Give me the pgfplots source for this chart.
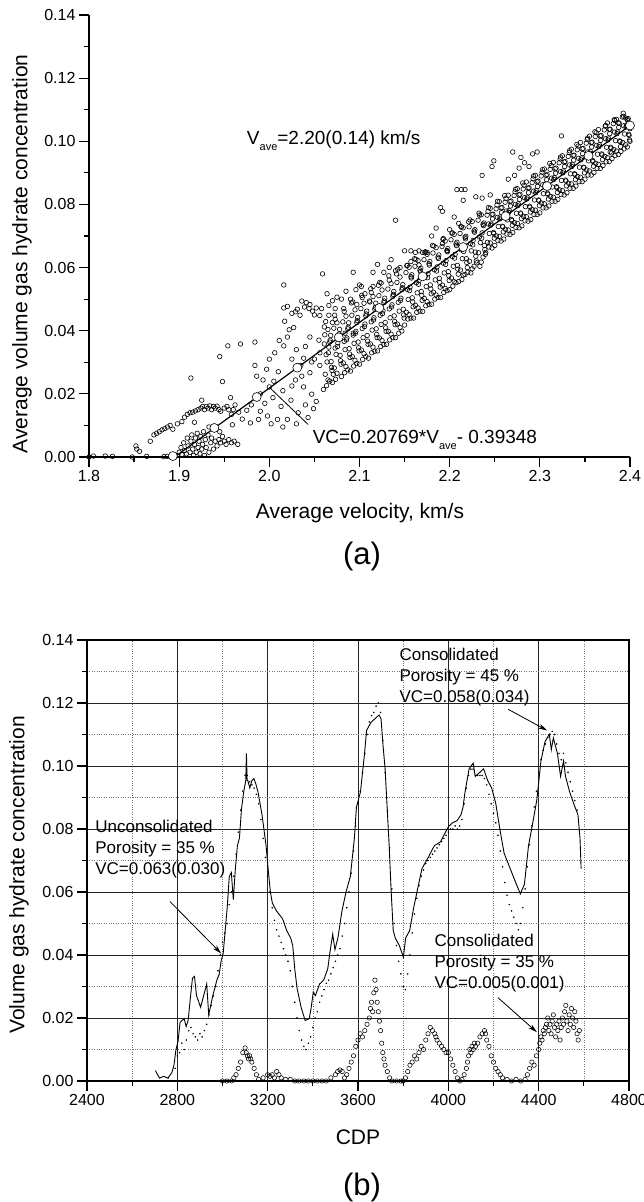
\documentclass[border=0pt]{standalone}
\usepackage{fontspec}
\setmainfont{Liberation Sans}
\usepackage{pgfplots}
\pgfplotsset{compat=1.18}
\usetikzlibrary{arrows.meta}
\newcommand\tickfont{\fontsize{16}{19}\selectfont}
\newcommand\labfont{\fontsize{21}{25}\selectfont}
\newcommand\annfont{\fontsize{19}{23}\selectfont}
\newcommand\annbfont{\fontsize{17}{21}\selectfont}
\newcommand\capfont{\fontsize{31}{36}\selectfont}
\newcommand\sub[1]{\raisebox{-0.32em}{\fontsize{11}{13}\selectfont #1}}
\pgfplotsset{
  myaxis/.style={
    scale only axis,
    ymin=0, ymax=0.14,
    ytick={0,0.02,0.04,0.06,0.08,0.10,0.12,0.14},
    minor ytick={0.01,0.03,0.05,0.07,0.09,0.11,0.13},
    scaled ticks=false,
    tick align=outside,
    major tick length=10pt,
    minor tick length=5pt,
    tick style={black, line width=1.2pt},
    axis line style={black, line width=1.2pt},
    ticklabel style={font=\tickfont},
    /pgf/number format/assume math mode=true,
    yticklabel style={/pgf/number format/.cd, fixed, fixed zerofill, precision=2},
  }
}
\begin{document}
\begin{tikzpicture}
\useasboundingbox (0pt,0pt) rectangle (643pt,1202pt);
% ---------------- panel (a)
\begin{axis}[myaxis, at={(89pt,745pt)}, anchor=south west, width=541pt, height=442pt,
  xmin=1.8, xmax=2.4,
  axis x line*=bottom, axis y line*=left,
  xtick={1.8,1.9,2.0,2.1,2.2,2.3,2.4},
  minor xtick={1.85,1.95,2.05,2.15,2.25,2.35},
  xticklabel style={/pgf/number format/.cd, fixed, fixed zerofill, precision=1},
]
\addplot[only marks, mark=o, mark size=2.3pt, mark options={line width=0.6pt, black}] coordinates {
(1.800,0.0000)(1.805,0.0003)(1.818,0.0003)(1.826,0.0002)(1.848,0.0000)(1.852,0.0035)(1.853,0.0025)(1.856,0.0018)(1.864,0.0002)(1.868,0.0050)(1.883,0.0001)(1.887,0.0002)
(1.872,0.0070)(1.875,0.0075)(1.878,0.0080)(1.881,0.0086)(1.884,0.0090)(1.887,0.0095)(1.890,0.0100)(1.893,0.0088)(1.898,0.0105)(1.903,0.0112)(1.906,0.0126)(1.909,0.0135)
(1.912,0.0140)(1.915,0.0142)(1.918,0.0146)(1.921,0.0150)(1.924,0.0155)(1.926,0.0160)(1.928,0.0150)(1.930,0.0160)(1.932,0.0155)(1.934,0.0162)(1.936,0.0150)(1.938,0.0160)
(1.940,0.0155)(1.942,0.0161)(1.944,0.0150)(1.946,0.0145)(1.950,0.0155)(1.953,0.0160)(1.955,0.0150)(1.958,0.0135)(1.960,0.0150)(1.962,0.0165)(1.925,0.0180)(1.913,0.0250)
(1.898,0.0005)(1.900,0.0015)(1.902,0.0030)(1.903,0.0008)(1.905,0.0045)(1.906,0.0020)(1.908,0.0010)(1.909,0.0060)(1.910,0.0035)(1.912,0.0015)(1.913,0.0050)(1.914,0.0070)
(1.915,0.0025)(1.916,0.0005)(1.917,0.0040)(1.918,0.0060)(1.919,0.0015)(1.920,0.0075)(1.921,0.0030)(1.922,0.0050)(1.923,0.0010)(1.924,0.0065)(1.925,0.0025)(1.926,0.0040)
(1.927,0.0080)(1.928,0.0005)(1.929,0.0055)(1.930,0.0030)(1.932,0.0070)(1.933,0.0015)(1.935,0.0045)(1.936,0.0060)(1.938,0.0025)(1.940,0.0050)(1.942,0.0035)(1.944,0.0055)
(1.946,0.0045)(1.948,0.0065)(1.950,0.0050)(1.952,0.0040)(1.955,0.0055)(1.958,0.0045)(1.961,0.0050)(1.965,0.0040)(1.945,0.0080)(1.933,0.0095)(1.917,0.0110)
(1.945,0.0318)(1.954,0.0352)(1.968,0.0358)(1.984,0.0364)(1.948,0.0239)(1.957,0.0188)(1.959,0.0102)(1.966,0.0142)(1.975,0.0148)(1.979,0.0108)(1.988,0.0119)(1.984,0.0290)
(1.986,0.0256)(1.993,0.0244)(1.997,0.0278)(2.000,0.0222)(2.004,0.0188)(2.009,0.0119)(2.020,0.0119)(2.011,0.0369)(2.016,0.0352)(2.020,0.0380)(2.022,0.0403)(2.027,0.0410)
(2.016,0.0472)(2.020,0.0477)(2.029,0.0460)(2.036,0.0494)(2.041,0.0489)(2.045,0.0483)(2.052,0.0472)(2.016,0.0545)(2.034,0.0449)(2.038,0.0313)(2.047,0.0301)(2.056,0.0290)
(2.029,0.0244)(2.038,0.0222)(2.047,0.0199)(2.052,0.0176)(2.049,0.0153)(2.036,0.0256)(2.045,0.0267)(2.056,0.0330)(2.061,0.0358)(2.059,0.0580)(2.064,0.0517)(2.066,0.0449)
(2.070,0.0426)(2.075,0.0506)(2.093,0.0585)(2.093,0.0392)(2.084,0.0392)
(1.990,0.0200)(1.995,0.0170)(2.005,0.0240)(2.010,0.0270)(2.015,0.0210)(2.025,0.0310)(2.030,0.0340)(2.035,0.0290)(2.040,0.0350)(2.045,0.0380)(2.050,0.0310)(2.055,0.0370)
(2.000,0.0310)(2.006,0.0330)(1.998,0.0130)(2.013,0.0160)(2.024,0.0180)(2.032,0.0140)(2.040,0.0165)(2.025,0.0225)(1.970,0.0120)(1.980,0.0165)(1.990,0.0145)(2.002,0.0105)
(2.015,0.0095)(2.030,0.0105)(2.043,0.0125)(2.017,0.0430)(2.025,0.0455)(2.031,0.0468)(2.039,0.0475)(2.048,0.0462)(2.056,0.0448)(2.044,0.0470)(2.050,0.0450)(2.058,0.0470)
(2.066,0.0480)(2.070,0.0495)(2.073,0.0470)(2.080,0.0500)(2.085,0.0525)(2.090,0.0500)(2.096,0.0530)(2.100,0.0545)
(2.102,0.0540)(2.106,0.0517)(2.097,0.0483)(2.111,0.0494)(2.115,0.0540)(2.124,0.0551)(2.115,0.0585)(2.127,0.0585)(2.140,0.0750)(2.190,0.0790)(2.192,0.0778)(2.150,0.0653)
(2.157,0.0653)(2.162,0.0648)(2.166,0.0653)(2.170,0.0648)(2.175,0.0648)(2.157,0.0619)(2.166,0.0608)(2.192,0.0676)(2.197,0.0653)(2.208,0.0847)(2.213,0.0847)(2.217,0.0847)
(2.215,0.0813)(2.229,0.0824)(2.236,0.0820)(2.245,0.0830)(2.236,0.0892)(2.249,0.0938)(2.247,0.0920)(2.270,0.0966)(2.279,0.0949)(2.283,0.0932)(2.292,0.0960)(2.297,0.0966)
(2.265,0.0880)(2.272,0.0892)(2.277,0.0915)(2.288,0.0920)(2.324,0.1017)(2.378,0.0966)(2.133,0.0600)(2.140,0.0590)(2.145,0.0600)(2.120,0.0610)(2.135,0.0625)
(2.180,0.0700)(2.200,0.0720)(2.210,0.0740)(2.185,0.0725)(2.205,0.0760)
(2.060,0.0214)(2.062,0.0262)(2.064,0.0301)(2.066,0.0348)(2.068,0.0385)(2.061,0.0412)(2.067,0.0240)
(2.070,0.0236)(2.072,0.0282)(2.074,0.0325)(2.076,0.0361)(2.078,0.0404)(2.073,0.0436)(2.071,0.0262)
(2.080,0.0255)(2.082,0.0298)(2.084,0.0340)(2.086,0.0377)(2.088,0.0425)(2.083,0.0461)(2.087,0.0276)
(2.090,0.0272)(2.092,0.0318)(2.094,0.0360)(2.096,0.0398)(2.098,0.0442)(2.091,0.0488)(2.097,0.0296)
(2.100,0.0294)(2.102,0.0339)(2.104,0.0378)(2.106,0.0421)(2.108,0.0462)(2.103,0.0505)(2.107,0.0318)
(2.110,0.0313)(2.112,0.0358)(2.114,0.0402)(2.116,0.0441)(2.118,0.0487)(2.113,0.0521)(2.117,0.0335)
(2.120,0.0336)(2.122,0.0377)(2.124,0.0420)(2.126,0.0463)(2.128,0.0503)(2.121,0.0544)(2.127,0.0356)
(2.130,0.0357)(2.132,0.0398)(2.134,0.0441)(2.136,0.0482)(2.138,0.0524)(2.133,0.0560)(2.137,0.0378)
(2.140,0.0378)(2.142,0.0421)(2.144,0.0462)(2.146,0.0503)(2.148,0.0546)(2.141,0.0580)(2.147,0.0399)
(2.150,0.0418)(2.152,0.0458)(2.154,0.0499)(2.156,0.0538)(2.158,0.0577)(2.153,0.0607)(2.157,0.0440)
(2.160,0.0440)(2.162,0.0480)(2.164,0.0520)(2.166,0.0559)(2.168,0.0598)(2.161,0.0628)(2.167,0.0462)
(2.170,0.0461)(2.172,0.0502)(2.174,0.0540)(2.176,0.0580)(2.178,0.0619)(2.173,0.0650)(2.177,0.0483)
(2.180,0.0484)(2.182,0.0522)(2.184,0.0561)(2.186,0.0602)(2.188,0.0640)(2.181,0.0670)(2.187,0.0505)
(2.190,0.0505)(2.192,0.0544)(2.194,0.0583)(2.196,0.0622)(2.198,0.0660)(2.193,0.0692)(2.197,0.0527)
(2.200,0.0530)(2.202,0.0567)(2.204,0.0604)(2.206,0.0642)(2.208,0.0680)(2.203,0.0710)(2.207,0.0552)
(2.210,0.0556)(2.212,0.0592)(2.214,0.0628)(2.216,0.0663)(2.218,0.0699)(2.213,0.0728)(2.217,0.0578)
(2.220,0.0585)(2.222,0.0620)(2.224,0.0653)(2.226,0.0686)(2.228,0.0720)(2.221,0.0745)(2.227,0.0604)
(2.230,0.0615)(2.232,0.0647)(2.234,0.0679)(2.236,0.0710)(2.238,0.0741)(2.233,0.0766)(2.237,0.0633)
(2.240,0.0648)(2.242,0.0680)(2.244,0.0708)(2.246,0.0738)(2.248,0.0769)(2.243,0.0790)(2.247,0.0662)
(2.250,0.0670)(2.252,0.0700)(2.254,0.0730)(2.256,0.0760)(2.258,0.0790)(2.253,0.0810)(2.257,0.0684)
(2.260,0.0690)(2.262,0.0721)(2.264,0.0751)(2.266,0.0781)(2.268,0.0811)(2.261,0.0828)(2.267,0.0705)
(2.270,0.0711)(2.272,0.0742)(2.274,0.0772)(2.276,0.0802)(2.278,0.0832)(2.273,0.0848)(2.277,0.0726)
(2.280,0.0732)(2.282,0.0762)(2.284,0.0793)(2.286,0.0823)(2.288,0.0853)(2.281,0.0868)(2.287,0.0747)
(2.290,0.0752)(2.292,0.0783)(2.294,0.0814)(2.296,0.0844)(2.298,0.0874)(2.293,0.0890)(2.297,0.0768)
(2.300,0.0773)(2.302,0.0804)(2.304,0.0834)(2.306,0.0864)(2.308,0.0895)(2.303,0.0910)(2.307,0.0789)
(2.310,0.0795)(2.312,0.0825)(2.314,0.0855)(2.316,0.0885)(2.318,0.0915)(2.311,0.0930)(2.317,0.0810)
(2.320,0.0816)(2.322,0.0846)(2.324,0.0876)(2.326,0.0906)(2.328,0.0936)(2.323,0.0950)(2.327,0.0830)
(2.330,0.0837)(2.332,0.0867)(2.334,0.0897)(2.336,0.0927)(2.338,0.0956)(2.333,0.0970)(2.337,0.0851)
(2.340,0.0858)(2.342,0.0888)(2.344,0.0918)(2.346,0.0947)(2.348,0.0977)(2.341,0.0990)(2.347,0.0872)
(2.350,0.0880)(2.352,0.0909)(2.354,0.0938)(2.356,0.0968)(2.358,0.0997)(2.353,0.1010)(2.357,0.0893)
(2.360,0.0901)(2.362,0.0930)(2.364,0.0959)(2.366,0.0989)(2.368,0.1018)(2.361,0.1030)(2.367,0.0914)
(2.370,0.0923)(2.372,0.0952)(2.374,0.0981)(2.376,0.1010)(2.378,0.1038)(2.373,0.1050)(2.377,0.0936)
(2.380,0.0945)(2.382,0.0974)(2.384,0.1002)(2.386,0.1030)(2.388,0.1057)(2.383,0.1066)(2.387,0.0958)
(2.390,0.0968)(2.392,0.0996)(2.394,0.1023)(2.396,0.1050)(2.398,0.1072)(2.393,0.1079)(2.397,0.0982)
(2.400,0.1000)(2.400,0.1040)
(2.065,0.0244)(2.069,0.0284)(2.063,0.0324)(2.067,0.0364)(2.065,0.0404)
(2.075,0.0265)(2.079,0.0305)(2.073,0.0345)(2.077,0.0385)(2.075,0.0425)
(2.085,0.0286)(2.089,0.0326)(2.083,0.0366)(2.087,0.0406)(2.085,0.0446)
(2.095,0.0306)(2.099,0.0346)(2.093,0.0386)(2.097,0.0426)(2.095,0.0466)
(2.105,0.0327)(2.109,0.0367)(2.103,0.0407)(2.107,0.0447)(2.105,0.0487)
(2.115,0.0348)(2.119,0.0388)(2.113,0.0428)(2.117,0.0468)(2.115,0.0508)
(2.125,0.0369)(2.129,0.0409)(2.123,0.0449)(2.127,0.0489)(2.125,0.0529)
(2.135,0.0389)(2.139,0.0429)(2.133,0.0469)(2.137,0.0509)(2.135,0.0549)
(2.145,0.0410)(2.149,0.0450)(2.143,0.0490)(2.147,0.0530)(2.145,0.0570)
(2.155,0.0451)(2.159,0.0491)(2.153,0.0531)(2.157,0.0571)(2.155,0.0601)
(2.165,0.0472)(2.169,0.0512)(2.163,0.0552)(2.167,0.0592)(2.165,0.0622)
(2.175,0.0492)(2.179,0.0532)(2.173,0.0572)(2.177,0.0612)(2.175,0.0642)
(2.185,0.0513)(2.189,0.0553)(2.183,0.0593)(2.187,0.0633)(2.185,0.0663)
(2.195,0.0534)(2.199,0.0574)(2.193,0.0614)(2.197,0.0654)(2.195,0.0684)
(2.205,0.0555)(2.209,0.0595)(2.203,0.0635)(2.207,0.0675)(2.205,0.0705)
(2.215,0.0576)(2.219,0.0616)(2.213,0.0656)(2.217,0.0696)(2.215,0.0726)
(2.225,0.0596)(2.229,0.0636)(2.223,0.0676)(2.227,0.0716)(2.225,0.0746)
(2.235,0.0617)(2.239,0.0657)(2.233,0.0697)(2.237,0.0737)(2.235,0.0767)
(2.245,0.0678)(2.249,0.0708)(2.243,0.0738)(2.247,0.0768)(2.245,0.0788)
(2.255,0.0699)(2.259,0.0729)(2.253,0.0759)(2.257,0.0789)(2.255,0.0809)
(2.265,0.0719)(2.269,0.0749)(2.263,0.0779)(2.267,0.0809)(2.265,0.0829)
(2.275,0.0740)(2.279,0.0770)(2.273,0.0800)(2.277,0.0830)(2.275,0.0850)
(2.285,0.0761)(2.289,0.0791)(2.283,0.0821)(2.287,0.0851)(2.285,0.0871)
(2.295,0.0782)(2.299,0.0812)(2.293,0.0842)(2.297,0.0872)(2.295,0.0892)
(2.305,0.0802)(2.309,0.0832)(2.303,0.0862)(2.307,0.0892)(2.305,0.0912)
(2.315,0.0823)(2.319,0.0853)(2.313,0.0883)(2.317,0.0913)(2.315,0.0933)
(2.325,0.0844)(2.329,0.0874)(2.323,0.0904)(2.327,0.0934)(2.325,0.0954)
(2.335,0.0865)(2.339,0.0895)(2.333,0.0925)(2.337,0.0955)(2.335,0.0975)
(2.345,0.0886)(2.349,0.0916)(2.343,0.0946)(2.347,0.0976)(2.345,0.0996)
(2.355,0.0906)(2.359,0.0936)(2.353,0.0966)(2.357,0.0996)(2.355,0.1016)
(2.365,0.0927)(2.369,0.0957)(2.363,0.0987)(2.367,0.1017)(2.365,0.1037)
(2.375,0.0948)(2.379,0.0978)(2.373,0.1008)(2.377,0.1038)(2.375,0.1058)
(2.385,0.0969)(2.389,0.0999)(2.383,0.1029)(2.387,0.1059)(2.385,0.1069)
(2.395,0.0989)(2.399,0.1019)(2.393,0.1049)(2.397,0.1069)(2.395,0.1074)
(2.0635,0.0226)(2.0685,0.0302)(2.0615,0.0387)(2.0655,0.0330)(2.0695,0.0274)(2.0625,0.0429)(2.0675,0.0370)
(2.0735,0.0246)(2.0785,0.0322)(2.0715,0.0408)(2.0755,0.0350)(2.0795,0.0294)(2.0725,0.0449)(2.0775,0.0390)
(2.0835,0.0267)(2.0885,0.0343)(2.0815,0.0428)(2.0855,0.0371)(2.0895,0.0315)(2.0825,0.0470)(2.0875,0.0411)
(2.0935,0.0288)(2.0985,0.0364)(2.0915,0.0449)(2.0955,0.0392)(2.0995,0.0336)(2.0925,0.0491)(2.0975,0.0432)
(2.1035,0.0309)(2.1085,0.0385)(2.1015,0.0470)(2.1055,0.0413)(2.1095,0.0357)(2.1025,0.0512)(2.1075,0.0453)
(2.1135,0.0330)(2.1185,0.0406)(2.1115,0.0491)(2.1155,0.0434)(2.1195,0.0378)(2.1125,0.0533)(2.1175,0.0474)
(2.1235,0.0350)(2.1285,0.0426)(2.1215,0.0511)(2.1255,0.0454)(2.1295,0.0398)(2.1225,0.0553)(2.1275,0.0494)
(2.1335,0.0371)(2.1385,0.0447)(2.1315,0.0532)(2.1355,0.0475)(2.1395,0.0419)(2.1325,0.0574)(2.1375,0.0515)
(2.1435,0.0392)(2.1485,0.0468)(2.1415,0.0553)(2.1455,0.0496)(2.1495,0.0440)(2.1425,0.0595)(2.1475,0.0536)
(2.1535,0.0437)(2.1585,0.0504)(2.1515,0.0584)(2.1555,0.0527)(2.1595,0.0476)(2.1525,0.0606)(2.1575,0.0567)
(2.1635,0.0458)(2.1685,0.0524)(2.1615,0.0604)(2.1655,0.0547)(2.1695,0.0496)(2.1625,0.0626)(2.1675,0.0587)
(2.1735,0.0479)(2.1785,0.0545)(2.1715,0.0625)(2.1755,0.0568)(2.1795,0.0517)(2.1725,0.0647)(2.1775,0.0608)
(2.1835,0.0500)(2.1885,0.0566)(2.1815,0.0646)(2.1855,0.0589)(2.1895,0.0538)(2.1825,0.0668)(2.1875,0.0629)
(2.1935,0.0521)(2.1985,0.0587)(2.1915,0.0667)(2.1955,0.0610)(2.1995,0.0559)(2.1925,0.0689)(2.1975,0.0650)
(2.2035,0.0541)(2.2085,0.0607)(2.2015,0.0688)(2.2055,0.0630)(2.2095,0.0579)(2.2025,0.0709)(2.2075,0.0670)
(2.2135,0.0562)(2.2185,0.0628)(2.2115,0.0708)(2.2155,0.0651)(2.2195,0.0600)(2.2125,0.0730)(2.2175,0.0691)
(2.2235,0.0583)(2.2285,0.0649)(2.2215,0.0729)(2.2255,0.0672)(2.2295,0.0621)(2.2225,0.0751)(2.2275,0.0712)
(2.2335,0.0604)(2.2385,0.0670)(2.2315,0.0750)(2.2355,0.0693)(2.2395,0.0642)(2.2325,0.0772)(2.2375,0.0733)
(2.2435,0.0665)(2.2485,0.0711)(2.2415,0.0766)(2.2455,0.0734)(2.2495,0.0693)(2.2425,0.0778)(2.2475,0.0754)
(2.2535,0.0685)(2.2585,0.0731)(2.2515,0.0786)(2.2555,0.0754)(2.2595,0.0713)(2.2525,0.0798)(2.2575,0.0774)
(2.2635,0.0706)(2.2685,0.0752)(2.2615,0.0807)(2.2655,0.0775)(2.2695,0.0734)(2.2625,0.0819)(2.2675,0.0795)
(2.2735,0.0727)(2.2785,0.0773)(2.2715,0.0828)(2.2755,0.0796)(2.2795,0.0755)(2.2725,0.0840)(2.2775,0.0816)
(2.2835,0.0748)(2.2885,0.0794)(2.2815,0.0849)(2.2855,0.0817)(2.2895,0.0776)(2.2825,0.0861)(2.2875,0.0837)
(2.2935,0.0768)(2.2985,0.0814)(2.2915,0.0869)(2.2955,0.0837)(2.2995,0.0796)(2.2925,0.0881)(2.2975,0.0857)
(2.3035,0.0789)(2.3085,0.0835)(2.3015,0.0890)(2.3055,0.0858)(2.3095,0.0817)(2.3025,0.0902)(2.3075,0.0878)
(2.3135,0.0810)(2.3185,0.0856)(2.3115,0.0911)(2.3155,0.0879)(2.3195,0.0838)(2.3125,0.0923)(2.3175,0.0899)
(2.3235,0.0831)(2.3285,0.0877)(2.3215,0.0932)(2.3255,0.0900)(2.3295,0.0859)(2.3225,0.0944)(2.3275,0.0920)
(2.3335,0.0851)(2.3385,0.0897)(2.3315,0.0952)(2.3355,0.0920)(2.3395,0.0879)(2.3325,0.0964)(2.3375,0.0940)
(2.3435,0.0872)(2.3485,0.0918)(2.3415,0.0973)(2.3455,0.0941)(2.3495,0.0900)(2.3425,0.0985)(2.3475,0.0961)
(2.3535,0.0893)(2.3585,0.0939)(2.3515,0.0994)(2.3555,0.0962)(2.3595,0.0921)(2.3525,0.1006)(2.3575,0.0982)
(2.3635,0.0914)(2.3685,0.0960)(2.3615,0.1015)(2.3655,0.0983)(2.3695,0.0942)(2.3625,0.1027)(2.3675,0.1003)
(2.3735,0.0935)(2.3785,0.0981)(2.3715,0.1036)(2.3755,0.1004)(2.3795,0.0963)(2.3725,0.1048)(2.3775,0.1024)
(2.3835,0.0955)(2.3885,0.1001)(2.3815,0.1056)(2.3855,0.1024)(2.3895,0.0983)(2.3825,0.1068)(2.3875,0.1044)
(2.3935,0.0976)(2.3985,0.1022)(2.3915,0.1077)(2.3955,0.1045)(2.3995,0.1004)(2.3925,0.1089)(2.3975,0.1065)
};
\addplot[black, line width=1.2pt] coordinates {(1.895,0) (2.400,0.1050)};
\addplot[only marks, mark=*, mark size=4.5pt, mark options={fill=white, draw=black, line width=0.6pt}] coordinates {
(1.893,0.0003)(1.939,0.0092)(1.986,0.0190)(2.031,0.0283)(2.077,0.0379)(2.122,0.0472)(2.170,0.0572)(2.215,0.0665)(2.262,0.0763)(2.308,0.0858)(2.354,0.0954)(2.400,0.1050)};
\node[anchor=base west, font=\annfont, inner sep=0pt] at (axis cs:1.975,0.0990) {V\sub{ave}=2.20(0.14) km/s};
\node[anchor=base west, font=\annfont, inner sep=0pt] at (axis cs:2.048,0.0043) {VC=0.20769*V\sub{ave}- 0.39348};
\draw[black, line width=0.8pt] (axis cs:2.001,0.0218) -- (axis cs:2.043,0.0103);
\end{axis}
\node[rotate=90, font=\labfont] at (22pt,948pt) {Average volume gas hydrate concentration};
\node[font=\labfont] at (360pt,689pt) {Average velocity, km/s};
\node[font=\capfont] at (362pt,646pt) {(a)};
% ---------------- panel (b)
\begin{axis}[myaxis, at={(87pt,121pt)}, anchor=south west, width=542pt, height=441pt,
  xmin=2400, xmax=4800,
  xtick={2400,2800,3200,3600,4000,4400,4800},
  minor xtick={2600,3000,3400,3800,4200,4600},
  tick pos=left,
  grid=both,
  major grid style={black!85, line width=0.7pt},
  minor grid style={black!55, dotted, line width=0.6pt},
  xticklabel style={/pgf/number format/.cd, 1000 sep={}},
]
\addplot[only marks, mark=*, mark size=0.55pt, black] coordinates {
(2720,0.000)(2760,0.001)(2790,0.004)(2800,0.008)(2810,0.009)(2820,0.012)(2830,0.010)(2840,0.013)(2850,0.016)(2860,0.017)(2870,0.015)(2880,0.014)(2890,0.013)(2900,0.015)
(2910,0.014)(2920,0.016)(2930,0.018)(2940,0.021)(2950,0.024)(2960,0.027)(2970,0.030)(2980,0.035)(2990,0.040)(3000,0.044)(3010,0.047)(3020,0.050)(3030,0.056)(3040,0.060)
(3050,0.065)(3060,0.072)(3070,0.079)(3080,0.086)(3090,0.092)(3100,0.097)(3110,0.097)(3120,0.095)(3130,0.094)(3140,0.093)(3150,0.091)(3160,0.088)(3170,0.083)(3180,0.077)
(3190,0.071)(3200,0.065)(3210,0.060)(3220,0.055)(3230,0.051)(3240,0.048)(3250,0.046)(3260,0.044)(3270,0.042)(3280,0.040)(3290,0.038)(3300,0.035)(3310,0.030)(3320,0.025)
(3330,0.020)(3340,0.016)(3350,0.013)(3360,0.011)(3370,0.010)(3380,0.012)(3390,0.014)(3400,0.017)(3410,0.020)(3420,0.022)(3430,0.025)(3440,0.027)(3450,0.029)(3460,0.031)
(3470,0.032)(3480,0.034)(3490,0.036)(3500,0.038)(3510,0.040)(3520,0.042)(3530,0.046)(3540,0.050)(3550,0.055)(3560,0.060)(3570,0.066)(3580,0.073)(3590,0.081)(3600,0.088)
(3610,0.092)(3620,0.098)(3630,0.104)(3640,0.110)(3650,0.114)(3660,0.116)(3670,0.117)(3680,0.119)(3690,0.120)(3700,0.117)(3710,0.108)(3720,0.098)(3730,0.086)(3740,0.074)
(3750,0.061)(3760,0.050)(3770,0.043)(3780,0.038)(3790,0.034)(3800,0.030)(3810,0.029)(3820,0.034)(3830,0.040)(3840,0.047)(3850,0.053)(3860,0.058)(3870,0.062)(3880,0.065)
(3890,0.067)(3900,0.069)(3910,0.070)(3920,0.071)(3930,0.072)(3940,0.073)(3950,0.074)(3960,0.075)(3970,0.076)(3980,0.077)(3990,0.078)(4000,0.079)(4010,0.080)(4020,0.080)
(4030,0.081)(4040,0.080)(4050,0.081)(4060,0.083)(4070,0.088)(4080,0.093)(4090,0.097)(4100,0.099)(4110,0.099)(4120,0.097)(4130,0.097)(4140,0.097)(4150,0.097)(4160,0.096)
(4170,0.094)(4180,0.091)(4190,0.088)(4200,0.085)(4210,0.082)(4220,0.078)(4230,0.073)(4240,0.068)(4250,0.063)(4260,0.059)(4270,0.056)(4280,0.054)(4290,0.052)(4300,0.050)
(4310,0.048)(4320,0.050)(4330,0.055)(4340,0.061)(4350,0.068)(4360,0.075)(4370,0.081)(4380,0.087)(4390,0.092)(4400,0.098)(4410,0.102)(4420,0.105)(4430,0.107)(4440,0.109)
(4450,0.110)(4460,0.111)(4470,0.110)(4480,0.107)(4490,0.104)(4500,0.102)(4510,0.104)(4520,0.101)(4530,0.098)(4540,0.095)(4550,0.092)(4560,0.089)(4570,0.086)
};
\addplot[black, line width=0.9pt] coordinates {
(2703,0.0033)(2721,0.0009)(2740,0.0015)(2758,0.0009)(2776,0.0027)(2785,0.0050)(2794,0.0100)(2803,0.0125)(2812,0.0186)(2830,0.0198)(2839,0.0173)(2848,0.0192)
(2857,0.0259)(2867,0.0326)(2876,0.0332)(2885,0.0271)(2903,0.0234)(2921,0.0283)(2930,0.0308)(2939,0.0210)(2957,0.0271)(2966,0.0295)(2975,0.0320)(2985,0.0338)
(2994,0.0381)(3003,0.0405)(3012,0.0478)(3021,0.0552)(3030,0.0649)(3039,0.0662)(3048,0.0576)(3057,0.0674)(3066,0.0747)(3075,0.0771)(3084,0.0863)(3094,0.0918)
(3103,0.0954)(3106,0.1040)(3109,0.0954)(3112,0.0954)(3121,0.0930)(3130,0.0954)(3139,0.0960)(3148,0.0942)(3157,0.0918)(3175,0.0845)(3193,0.0747)(3202,0.0674)
(3212,0.0600)(3221,0.0564)(3239,0.0540)(3266,0.0515)(3284,0.0478)(3302,0.0454)(3311,0.0430)(3320,0.0356)(3330,0.0295)(3348,0.0234)(3366,0.0192)(3384,0.0198)
(3393,0.0234)(3402,0.0283)(3411,0.0271)(3430,0.0308)(3448,0.0320)(3466,0.0356)(3475,0.0405)(3488,0.0466)(3498,0.0417)(3511,0.0454)(3529,0.0540)(3547,0.0600)
(3566,0.0649)(3584,0.0771)(3593,0.0869)(3611,0.0918)(3629,0.1040)(3638,0.1113)(3657,0.1138)(3675,0.1150)(3693,0.1162)(3702,0.1150)(3711,0.1064)(3720,0.0991)
(3729,0.0869)(3738,0.0747)(3747,0.0600)(3756,0.0478)(3765,0.0454)(3783,0.0430)(3801,0.0393)(3811,0.0454)(3829,0.0478)(3847,0.0552)(3865,0.0613)(3883,0.0674)
(3911,0.0710)(3938,0.0747)(3965,0.0759)(3983,0.0784)(4001,0.0808)(4019,0.0820)(4038,0.0826)(4056,0.0845)(4065,0.0869)(4074,0.0918)(4092,0.0991)(4110,0.1009)
(4119,0.0967)(4138,0.0979)(4156,0.0991)(4174,0.0954)(4192,0.0930)(4210,0.0881)(4229,0.0796)(4247,0.0723)(4274,0.0674)(4301,0.0625)(4319,0.0594)(4337,0.0625)
(4355,0.0747)(4374,0.0820)(4392,0.0893)(4410,0.1016)(4428,0.1077)(4447,0.1101)(4456,0.1052)(4465,0.1089)(4483,0.1040)(4497,0.0967)(4510,0.1016)(4519,0.0967)
(4537,0.0918)(4555,0.0881)(4574,0.0845)(4583,0.0771)(4588,0.0674)
};
\addplot[only marks, mark=o, mark size=2.2pt, mark options={line width=0.55pt, black}] coordinates {
(3000,0)(3020,0)(3040,0)(3050,0.001)(3060,0.002)(3070,0.004)(3080,0.006)(3090,0.009)(3100,0.0105)(3105,0.009)(3110,0.008)(3115,0.007)(3120,0.008)(3125,0.007)(3130,0.006)
(3140,0.004)(3150,0.002)(3160,0.0005)(3180,0.001)(3200,0.002)(3210,0.0015)(3220,0.002)(3230,0.001)(3240,0.003)(3250,0.002)(3260,0.001)(3280,0.0005)(3300,0.0005)
(3320,0)(3340,0)(3360,0)(3380,0)(3400,0)(3420,0)(3440,0)(3460,0)(3480,0.001)(3500,0.002)(3510,0.003)(3520,0.0035)(3530,0.003)(3540,0.001)(3550,0.002)(3560,0.004)
(3570,0.006)(3580,0.008)(3590,0.011)(3600,0.013)(3610,0.015)(3620,0.014)(3630,0.016)(3640,0.018)(3650,0.020)(3655,0.023)(3660,0.025)(3665,0.022)(3670,0.028)(3675,0.032)
(3680,0.029)(3685,0.025)(3690,0.022)(3695,0.019)(3700,0.016)(3705,0.012)(3710,0.009)(3715,0.007)(3720,0.005)(3730,0.003)(3740,0.001)(3750,0)(3770,0)(3790,0)(3800,0)
(3810,0.001)(3820,0.003)(3830,0.005)(3840,0.006)(3850,0.008)(3860,0.007)(3870,0.009)(3880,0.011)(3890,0.010)(3900,0.013)(3910,0.015)(3920,0.017)(3930,0.016)(3940,0.015)
(3945,0.014)(3950,0.013)(3960,0.012)(3970,0.011)(3980,0.010)(3990,0.009)(4000,0.009)(4010,0.007)(4020,0.005)(4030,0.003)(4040,0.001)(4050,0.000)(4060,0.0005)(4070,0.002)
(4080,0.004)(4085,0.006)(4090,0.008)(4095,0.010)(4100,0.009)(4105,0.011)(4110,0.010)(4115,0.012)(4120,0.011)(4130,0.012)(4140,0.014)(4150,0.015)(4160,0.016)(4165,0.015)
(4170,0.013)(4180,0.011)(4190,0.008)(4200,0.006)(4210,0.004)(4220,0.003)(4230,0.002)(4240,0.001)(4260,0.0005)(4280,0)(4300,0.0005)(4320,0)(4340,0.0005)(4350,0.002)
(4360,0.004)(4370,0.006)(4380,0.005)(4390,0.008)(4400,0.010)(4405,0.012)(4410,0.014)(4415,0.013)(4420,0.016)(4425,0.015)(4430,0.017)(4435,0.018)(4440,0.020)(4445,0.016)
(4450,0.018)(4455,0.015)(4460,0.019)(4465,0.021)(4470,0.017)(4475,0.014)(4480,0.018)(4485,0.016)(4490,0.019)(4495,0.013)(4500,0.017)(4505,0.020)(4510,0.018)(4515,0.022)
(4520,0.024)(4525,0.019)(4530,0.016)(4535,0.021)(4540,0.018)(4545,0.023)(4550,0.020)(4555,0.017)(4560,0.022)(4565,0.019)(4570,0.015)(4575,0.013)(4580,0.016)
};
\node[anchor=north west, align=left, font=\annbfont, inner sep=0pt] at (axis cs:2436,0.0828) {Unconsolidated\\Porosity = 35 \%\\VC=0.063(0.030)};
\node[anchor=north west, align=left, font=\annbfont, inner sep=0pt] at (axis cs:3783,0.1376) {Consolidated\\Porosity = 45 \%\\VC=0.058(0.034)};
\node[anchor=north west, align=left, font=\annbfont, inner sep=0pt] at (axis cs:3938,0.0467) {Consolidated\\Porosity = 35 \%\\VC=0.005(0.001)};
\draw[-{Stealth[length=9pt,width=5pt]}, line width=0.8pt] (axis cs:2767,0.0570) -- (axis cs:2994,0.0405);
\draw[-{Stealth[length=9pt,width=5pt]}, line width=0.8pt] (axis cs:4265,0.1180) -- (axis cs:4437,0.1113);
\draw[-{Stealth[length=9pt,width=5pt]}, line width=0.8pt] (axis cs:4219,0.0265) -- (axis cs:4392,0.0155);
\end{axis}
\node[rotate=90, font=\labfont] at (19pt,327pt) {Volume gas hydrate concentration};
\node[font=\labfont] at (358pt,65pt) {CDP};
\node[font=\capfont] at (362pt,15pt) {(b)};
\end{tikzpicture}
\end{document}
